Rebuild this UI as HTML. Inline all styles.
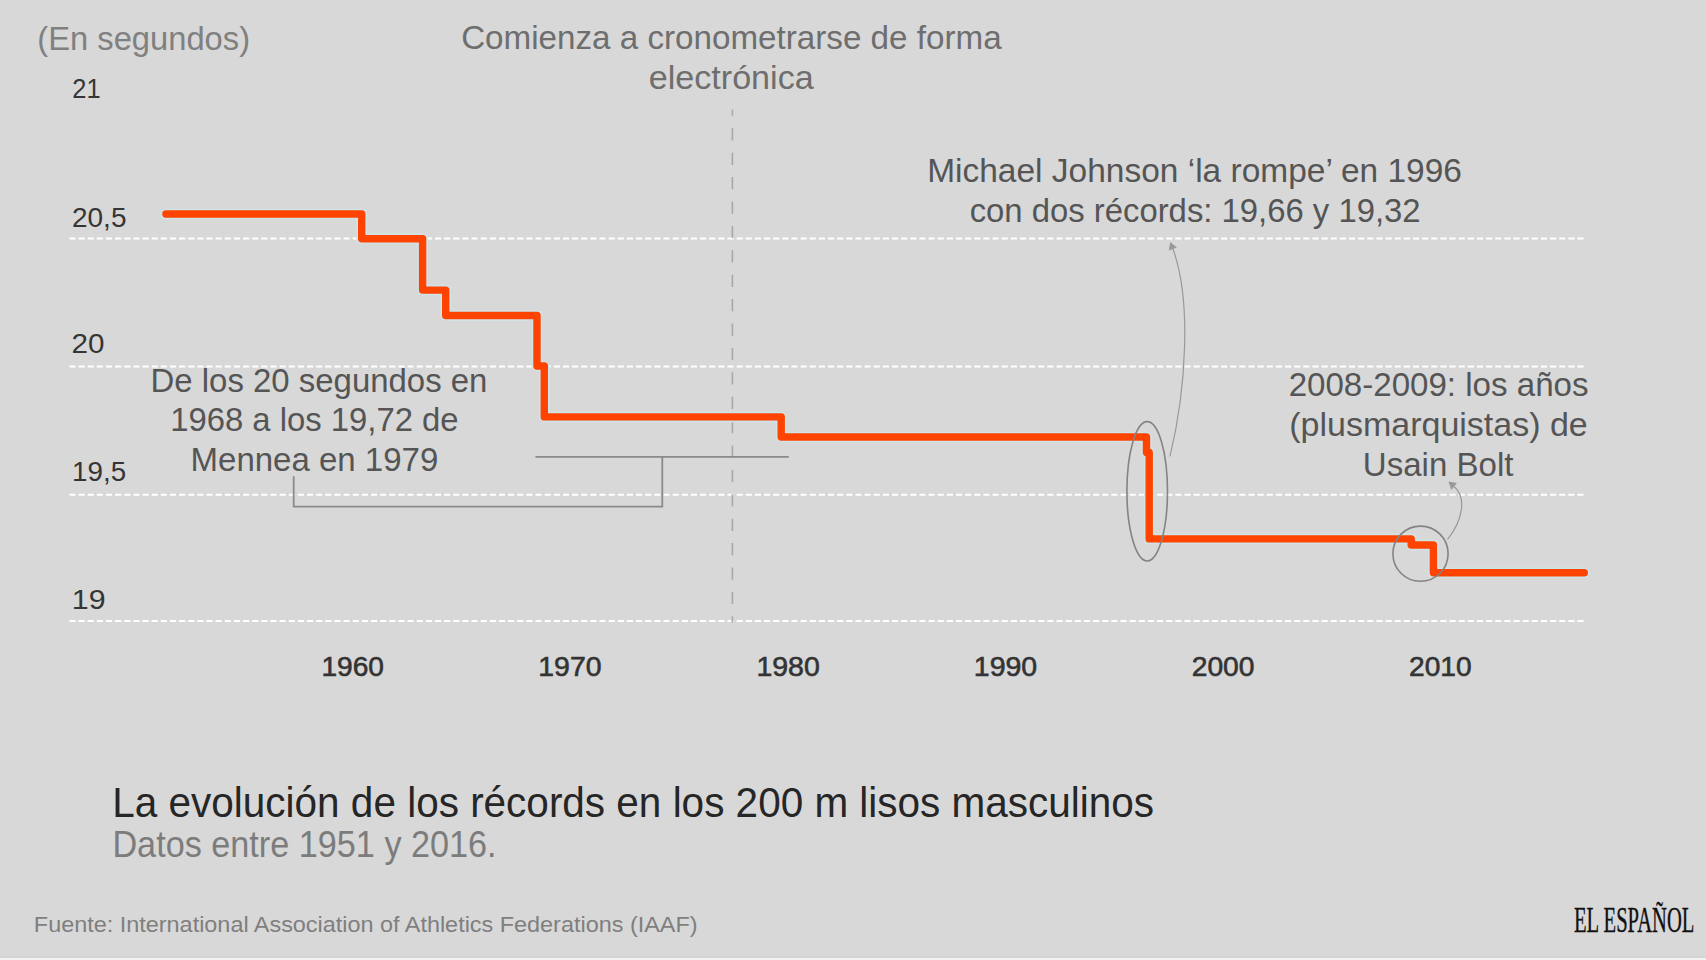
<!DOCTYPE html>
<html><head><meta charset="utf-8">
<style>
html,body{margin:0;padding:0;background:#d8d8d8;width:1706px;height:960px;overflow:hidden}
svg{position:absolute;left:0;top:0;display:block}
text{font-family:"Liberation Sans",sans-serif}
.bot1{position:absolute;left:0;top:956px;width:1706px;height:2px;background:#d4d4d4}
.bot2{position:absolute;left:0;top:958px;width:1706px;height:2px;background:#f1f1f1}
</style></head>
<body>
<svg width="1706" height="960" viewBox="0 0 1706 960">
<!-- gridlines -->
  <g stroke="#ffffff" stroke-width="2" stroke-dasharray="6.1 3.04" fill="none">
    <line x1="69.4" y1="238.6" x2="1584" y2="238.6"/>
    <line x1="69.4" y1="366.6" x2="1584" y2="366.6"/>
    <line x1="69.4" y1="494.7" x2="1584" y2="494.7"/>
    <line x1="69.4" y1="620.9" x2="1584" y2="620.9"/>
  </g>
  <!-- vertical dashed line -->
  <path d="M732.4,109.4V115.8M732.4,128.3V140.5M732.4,152.7V164.9M732.4,177.1V189.3M732.4,201.5V213.7M732.4,225.9V238.1M732.4,250.3V262.5M732.4,274.7V286.9M732.4,299.1V311.3M732.4,323.5V335.7M732.4,347.9V360.1M732.4,372.3V384.5M732.4,396.7V408.9M732.4,421.1V433.3M732.4,445.5V457.7M732.4,469.9V482.1M732.4,494.3V506.5M732.4,518.7V530.9M732.4,543.1V555.3M732.4,567.5V579.7M732.4,591.9V604.1M732.4,616.3V622.5" stroke="#a8a8a8" stroke-width="1.6" fill="none"/>

  <!-- bracket -->
  <g stroke="#8a8a8a" stroke-width="1.8" fill="none">
    <polyline points="293.7,476.3 293.7,506.7 662.3,506.7 662.3,456.8"/>
    <line x1="535.4" y1="456.8" x2="788.8" y2="456.8"/>
  </g>

  <!-- record line -->
  <polyline fill="none" stroke="#d0e3e6" stroke-width="10.6" stroke-linejoin="round" stroke-linecap="round" points="165.9,214 361.7,214 361.7,238.8 422.6,238.8 422.6,290.1 445.7,290.1 445.7,315.5 537,315.5 537,366 544.3,366 544.3,416.9 781.2,416.9 781.2,437 1146.5,437 1146.5,452.5 1149.2,452.5 1149.2,538.9 1411.2,538.9 1411.2,545 1433.4,545 1433.4,572.8 1584.3,572.8"/>
  
  <polyline fill="none" stroke="#ff4300" stroke-width="7.4" stroke-linejoin="round" stroke-linecap="round"
    points="165.9,214 361.7,214 361.7,238.8 422.6,238.8 422.6,290.1 445.7,290.1 445.7,315.5 537,315.5 537,366 544.3,366 544.3,416.9 781.2,416.9 781.2,437 1146.5,437 1146.5,452.5 1149.2,452.5 1149.2,538.9 1411.2,538.9 1411.2,545 1433.4,545 1433.4,572.8 1584.3,572.8"/>

  <!-- ellipse + circle annotations -->
  <g stroke="#848484" stroke-width="1.6" fill="none">
    <ellipse cx="1147.2" cy="491.3" rx="20.3" ry="69.7"/>
    <circle cx="1420.5" cy="553.7" r="27.6"/>
  </g>
  <!-- arrows -->
  <g stroke="#999999" stroke-width="1.2" fill="none">
    <path d="M1170,456.3 C1186,390 1192,300 1172.6,248"/>
    <path d="M1447.5,539.4 C1463,520 1467,497 1453.5,486"/>
  </g>
  <g fill="#999999">
    <polygon points="1170.3,242 1168.7,250.6 1176.9,247.5"/>
    <polygon points="1448.5,481.5 1451.3,490 1456.9,483.1"/>
  </g>

  
<text id="ens" y="49.8" font-size="34" fill="#808080" x="37.27" textLength="212.81" lengthAdjust="spacingAndGlyphs">(En segundos)</text>
<text id="com1" y="49.2" font-size="34" fill="#6e6e6e" x="461.15" textLength="540.45" lengthAdjust="spacingAndGlyphs">Comienza a cronometrarse de forma</text>
<text id="com2" y="88.6" font-size="34" fill="#6e6e6e" x="648.68" textLength="165.06" lengthAdjust="spacingAndGlyphs">electrónica</text>
<text id="mj1" y="181.7" font-size="34" fill="#555555" x="927.15" textLength="534.80" lengthAdjust="spacingAndGlyphs">Michael Johnson ‘la rompe’ en 1996</text>
<text id="mj2" y="221.5" font-size="34" fill="#555555" x="969.65" textLength="450.97" lengthAdjust="spacingAndGlyphs">con dos récords: 19,66 y 19,32</text>
<text id="de1" y="391.9" font-size="34" fill="#555555" x="150.57" textLength="336.87" lengthAdjust="spacingAndGlyphs">De los 20 segundos en</text>
<text id="de2" y="431.25" font-size="34" fill="#555555" x="170.17" textLength="288.39" lengthAdjust="spacingAndGlyphs">1968 a los 19,72 de</text>
<text id="de3" y="470.6" font-size="34" fill="#555555" x="190.57" textLength="247.71" lengthAdjust="spacingAndGlyphs">Mennea en 1979</text>
<text id="bo1" y="396.1" font-size="34" fill="#555555" x="1288.63" textLength="299.86" lengthAdjust="spacingAndGlyphs">2008-2009: los años</text>
<text id="bo2" y="436.1" font-size="34" fill="#555555" x="1289.29" textLength="298.48" lengthAdjust="spacingAndGlyphs">(plusmarquistas) de</text>
<text id="bo3" y="475.6" font-size="34" fill="#555555" x="1362.86" textLength="150.61" lengthAdjust="spacingAndGlyphs">Usain Bolt</text>
<text id="title" y="816.7" font-size="42" fill="#262626" x="112.32" textLength="1041.77" lengthAdjust="spacingAndGlyphs">La evolución de los récords en los 200 m lisos masculinos</text>
<text id="datos" y="857.2" font-size="36" fill="#7c7c7c" x="112.42" textLength="384.22" lengthAdjust="spacingAndGlyphs">Datos entre 1951 y 2016.</text>
<text id="fuente" y="932.0" font-size="22" fill="#7f7f7f" x="33.86" textLength="663.67" lengthAdjust="spacingAndGlyphs">Fuente: International Association of Athletics Federations (IAAF)</text>
<text id="y21" y="98.3" font-size="28.5" fill="#353535" x="72.27" textLength="28.30" lengthAdjust="spacingAndGlyphs">21</text>
<text id="y205" y="226.8" font-size="28.5" fill="#353535" x="72.02" textLength="54.44" lengthAdjust="spacingAndGlyphs">20,5</text>
<text id="y20" y="352.7" font-size="28.5" fill="#353535" x="71.53" textLength="32.98" lengthAdjust="spacingAndGlyphs">20</text>
<text id="y195" y="481" font-size="28.5" fill="#353535" x="72.05" textLength="54.03" lengthAdjust="spacingAndGlyphs">19,5</text>
<text id="y19" y="609" font-size="28.5" fill="#353535" x="71.87" textLength="33.78" lengthAdjust="spacingAndGlyphs">19</text>
<text id="x1960" y="676.0" font-size="28.5" fill="#333333" stroke="#333333" stroke-width="0.6" x="321.38" textLength="62.61" lengthAdjust="spacingAndGlyphs">1960</text>
<text id="x1970" y="675.8" font-size="28.5" fill="#333333" stroke="#333333" stroke-width="0.6" x="538.27" textLength="63.25" lengthAdjust="spacingAndGlyphs">1970</text>
<text id="x1980" y="675.8" font-size="28.5" fill="#333333" stroke="#333333" stroke-width="0.6" x="756.39" textLength="63.42" lengthAdjust="spacingAndGlyphs">1980</text>
<text id="x1990" y="675.8" font-size="28.5" fill="#333333" stroke="#333333" stroke-width="0.6" x="973.80" textLength="63.42" lengthAdjust="spacingAndGlyphs">1990</text>
<text id="x2000" y="675.9" font-size="28.5" fill="#333333" stroke="#333333" stroke-width="0.6" x="1191.69" textLength="62.84" lengthAdjust="spacingAndGlyphs">2000</text>
<text id="x2010" y="675.9" font-size="28.5" fill="#333333" stroke="#333333" stroke-width="0.6" x="1409.01" textLength="62.59" lengthAdjust="spacingAndGlyphs">2010</text>
<text x="1574" y="932.5" style="font-family:'Liberation Serif',serif" font-size="36.5" fill="#111111" stroke="#111111" stroke-width="0.4" transform="translate(1574 0) scale(0.565 1) translate(-1574 0)">EL ESPAÑOL</text>
</svg>
<div class="bot1"></div><div class="bot2"></div>
</body></html>
